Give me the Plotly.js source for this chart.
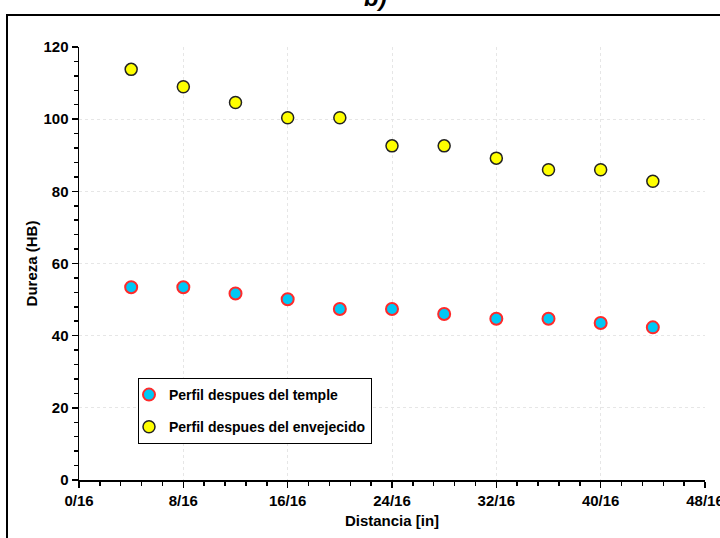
<!DOCTYPE html>
<html>
<head>
<meta charset="utf-8">
<script src="https://cdn.plot.ly/plotly-3.0.1.min.js"></script>
<style>
  html, body { margin: 0; padding: 0; background: #fff; }
  #chart { width: 720px; height: 538px; }
</style>
</head>
<body>
<div id="chart"></div>
<script>
// Distance from the quenched end, in sixteenths of an inch
const distancia = [4, 8, 12, 16, 20, 24, 28, 32, 36, 40, 44];

// Brinell hardness profiles
const durezaTemple = [53.4, 53.4, 51.7, 50.1, 47.4, 47.4, 46.0, 44.7, 44.7, 43.5, 42.3];
const durezaEnvejecido = [113.8, 109.0, 104.6, 100.4, 100.4, 92.6, 92.6, 89.2, 86.0, 86.0, 82.8];

const nombres = ['Perfil despues del temple', 'Perfil despues del envejecido'];

// x tick labels in sixteenths
const xTickVals = [0, 8, 16, 24, 32, 40, 48];
const xTickText = ['0/16', '8/16', '16/16', '24/16', '32/16', '40/16', '48/16'];

const fam = '"Liberation Sans", Arial, sans-serif';
const boldFont = (size) => ({ family: fam, size: size, color: '#000', weight: 'bold' });

const traces = [
  {
    x: distancia, y: durezaTemple, name: nombres[0], type: 'scatter', mode: 'markers',
    legendgroup: 'a',
    marker: { size: 12, color: '#00C8F5', line: { color: '#FF2A2A', width: 2 } }
  },
  {
    x: distancia, y: durezaEnvejecido, name: nombres[1], type: 'scatter', mode: 'markers',
    legendgroup: 'b',
    marker: { size: 12, color: '#FFFF00', line: { color: '#222222', width: 1.5 } }
  }
];

const L = 79, R = 15, T = 47, B = 58;
const W = 720, H = 538;
const pw = W - L - R, ph = H - T - B;
const px2x = (px) => (px - L) / pw;
const py2y = (py) => (H - B - py) / ph;

const layout = {
  width: W, height: H,
  margin: { l: L, r: R, t: T, b: B },
  paper_bgcolor: '#fff', plot_bgcolor: '#fff',
  showlegend: true,
  legend: {
    x: px2x(138), y: py2y(378), xanchor: 'left', yanchor: 'top',
    bgcolor: '#fff', bordercolor: '#000', borderwidth: 1,
    font: boldFont(14),
    traceorder: 'grouped', tracegroupgap: 11,
    indentation: -10
  },
  xaxis: {
    range: [0, 48], tickmode: 'array', tickvals: xTickVals, ticktext: xTickText,
    ticklabeloverflow: 'allow',
    showline: true, linecolor: '#000', linewidth: 1.5,
    ticks: 'outside', ticklen: 6, tickwidth: 1.5, tickcolor: '#000',
    tickfont: boldFont(15),
    showgrid: true, gridcolor: '#e6e6e6', gridwidth: 1, griddash: 'dot',
    minor: { dtick: 1.6, tick0: 0, ticks: 'outside', ticklen: 4, tickwidth: 1.5, tickcolor: '#000', showgrid: false },
    zeroline: false, fixedrange: true,
    title: { text: 'Distancia [in]', font: boldFont(15), standoff: 8 }
  },
  yaxis: {
    range: [0, 120], dtick: 20, tick0: 0,
    showline: true, linecolor: '#000', linewidth: 1.5,
    ticks: 'outside', ticklen: 6, tickwidth: 1.5, tickcolor: '#000',
    tickfont: boldFont(15),
    showgrid: true, gridcolor: '#e6e6e6', gridwidth: 1, griddash: 'dot',
    minor: { dtick: 4, tick0: 0, ticks: 'outside', ticklen: 4, tickwidth: 1.5, tickcolor: '#000', showgrid: false },
    zeroline: false, fixedrange: true,
    title: { text: 'Dureza (HB)', font: boldFont(15), standoff: 2 }
  },
  shapes: [
    {
      type: 'rect', xref: 'paper', yref: 'paper',
      x0: px2x(7), x1: px2x(730), y0: py2y(548), y1: py2y(15),
      line: { color: '#000', width: 2 }, fillcolor: 'rgba(0,0,0,0)', layer: 'below'
    }
  ],
  annotations: [
    {
      text: '<b><i>b)</i></b>', xref: 'paper', yref: 'paper',
      x: px2x(375), y: py2y(13), xanchor: 'center', yanchor: 'bottom',
      showarrow: false, font: { family: fam, size: 24, color: '#000' }
    }
  ]
};

Plotly.newPlot('chart', traces, layout, { displayModeBar: false, staticPlot: true });
</script>
</body>
</html>
